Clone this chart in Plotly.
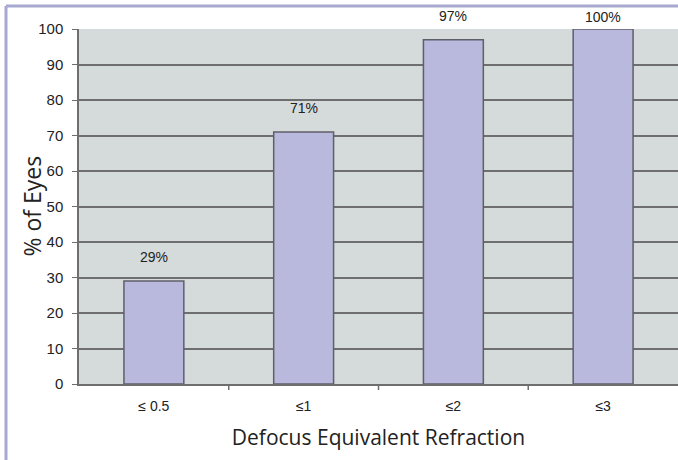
import plotly.graph_objects as go

categories = ["≤ 0.5", "≤1", "≤2", "≤3"]
percent_eyes = [29, 71, 97, 100]
y_ticks = [0, 10, 20, 30, 40, 50, 60, 70, 80, 90, 100]

BAR_COLOR = "#b8b9dc"
PLOT_BG = "#d5dbdb"
GRID_COLOR = "#6e6e6e"
FRAME_COLOR = "#a7a9d1"
TEXT_COLOR = "#222222"

W, H = 678, 460
L, R, T, B = 79, 0, 29, 76
pw = W - L - R
ph = H - T - B

fig = go.Figure()

fig.add_trace(go.Bar(
    x=categories,
    y=percent_eyes,
    width=0.4,
    marker=dict(color=BAR_COLOR, line=dict(color="#5f5f6a", width=1.5)),
    hoverinfo="skip",
))

# value labels above bars
for c, v in zip(categories, percent_eyes):
    fig.add_annotation(
        x=c, y=v, text=f"{v}%", showarrow=False,
        yanchor="bottom", yshift=14 if v < 100 else 2,
        font=dict(family="Liberation Sans, Arial", size=14, color=TEXT_COLOR),
    )

# y axis title, sits close to the tick labels like the original
fig.add_annotation(
    xref="paper", yref="paper", x=(31 - L) / pw, y=0.5,
    text="% of Eyes", textangle=-90, showarrow=False,
    xanchor="center", yanchor="middle",
    font=dict(family="Open Sans, Noto Sans", size=23, color=TEXT_COLOR),
)

# frame lines on top and left of the page
fig.add_shape(type="line", xref="paper", yref="paper",
              x0=(6 - L) / pw, x1=(W - L) / pw,
              y0=1 + (T - 6) / ph, y1=1 + (T - 6) / ph,
              line=dict(color=FRAME_COLOR, width=3))
fig.add_shape(type="line", xref="paper", yref="paper",
              x0=(6 - L) / pw, x1=(6 - L) / pw,
              y0=1 + (T - 6) / ph, y1=-(B + 5) / ph,
              line=dict(color=FRAME_COLOR, width=3))

fig.update_layout(
    width=W, height=H,
    margin=dict(l=L, r=R, t=T, b=B, autoexpand=False),
    paper_bgcolor="white",
    plot_bgcolor=PLOT_BG,
    showlegend=False,
    xaxis=dict(
        title=dict(text="Defocus Equivalent Refraction", standoff=18,
                   font=dict(family="Open Sans, Noto Sans", size=21, color=TEXT_COLOR)),
        tickfont=dict(family="Liberation Sans, Arial", size=14, color=TEXT_COLOR),
        ticklabelstandoff=8,
        showline=True, linecolor=GRID_COLOR, linewidth=1.5,
        showgrid=False,
        ticks="",
        automargin=False,
    ),
    yaxis=dict(
        range=[0, 100],
        tickvals=y_ticks,
        tickfont=dict(family="Liberation Sans, Arial", size=15, color=TEXT_COLOR),
        ticklabelstandoff=6,
        ticks="outside", ticklen=5, tickcolor=GRID_COLOR,
        showline=True, linecolor=GRID_COLOR, linewidth=1.5,
        showgrid=True, gridcolor=GRID_COLOR, gridwidth=1.5,
        zeroline=False,
        automargin=False,
    ),
)

# tick marks between categories on x axis
for i in range(1, len(categories)):
    fig.add_shape(type="line", xref="x", yref="paper",
                  x0=i - 0.5, x1=i - 0.5, y0=0, y1=-6 / ph,
                  line=dict(color=GRID_COLOR, width=1.5))

fig.write_html("out.html", config={"displayModeBar": False},
               post_script="document.body.style.margin='0';")
